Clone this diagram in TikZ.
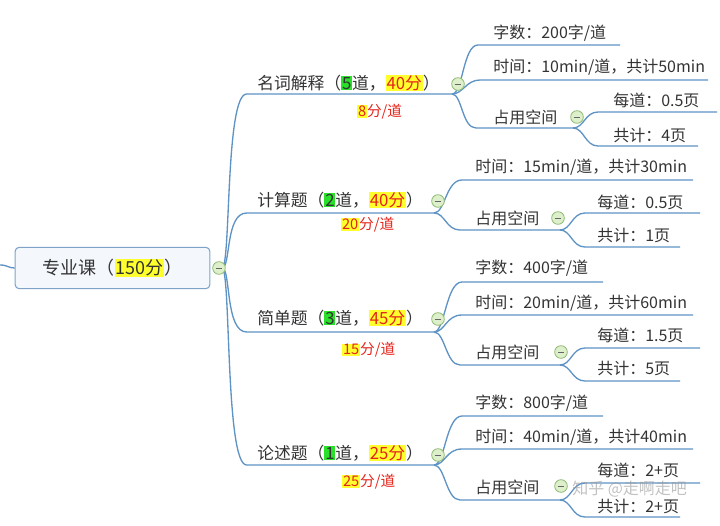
\documentclass[tikz,border=0pt]{standalone}
\usepackage{fontspec}
\setmainfont{Noto Sans CJK SC}
\definecolor{lineblue}{HTML}{5E93C4}
\definecolor{txt}{HTML}{333333}
\definecolor{hl}{HTML}{FFFF2E}
\definecolor{gr}{HTML}{2BE02B}
\definecolor{rd}{HTML}{E5231B}
\definecolor{boxedge}{HTML}{7FA3C8}
\definecolor{boxfill}{HTML}{F4F8FD}
\definecolor{togfill}{HTML}{DDEFCB}
\definecolor{togedge}{HTML}{8DBB72}
\newcommand{\hy}[1]{{\setlength{\fboxsep}{0.6pt}\colorbox{hl}{#1}}}
\newcommand{\hg}[1]{{\setlength{\fboxsep}{0.6pt}\colorbox{gr}{#1}}}
\newcommand{\rdy}[1]{\hy{\textcolor{rd}{#1}}}
\begin{document}
\begin{tikzpicture}[x=0.75pt,y=-0.75pt,
  conn/.style={draw=lineblue, line width=1pt},
  lbl/.style={anchor=west, inner sep=0pt, text=txt, font=\fontsize{12}{14}\selectfont},
  lbla/.style={lbl, font=\fontsize{12.6}{14}\selectfont},
  hand/.style={anchor=west, inner sep=0pt, text=rd, font=\fontsize{11}{12}\selectfont},
  tog/.style={circle, draw=togedge, fill=togfill, minimum size=9.5pt, inner sep=0pt, line width=0.6pt,
    path picture={\draw[black!60, line width=0.6pt] ([xshift=-2.6pt]path picture bounding box.center) -- ([xshift=2.6pt]path picture bounding box.center);}},
  rootbox/.style={draw=boxedge, fill=boxfill, rounded corners=3pt, line width=0.8pt,
    minimum width=146pt, minimum height=31pt, text=txt, font=\fontsize{13.5}{15}\selectfont}
]
\useasboundingbox (0,0) rectangle (720,525);

% root
\coordinate (lin) at (0,265);
\node[rootbox] (root) at (112.5,268) {专业课（\hy{150分}）};
\draw[conn] (lin) .. controls (8,265) and (8,268) .. (root.west);
\coordinate (rj) at (222,268);

% level-1 junction coordinates
\coordinate (a1s) at (248,94);  \coordinate (j1) at (452,94);
\coordinate (a2s) at (248,213); \coordinate (j2) at (434,213);
\coordinate (a3s) at (248,332); \coordinate (j3) at (434,332);
\coordinate (a4s) at (248,465); \coordinate (j4) at (434,465);

\foreach \s/\j in {a1s/j1,a2s/j2,a3s/j3,a4s/j4}{
  \draw[conn] (rj) .. controls (231,268) and (225,0|-\s) .. ([xshift=-1pt]\s) -- (\j);
}

\node[lbla] (a1) at (257,83) {名词解释（\hg{5}道，\rdy{40分}）};
\node[lbla] (a2) at (257,200) {计算题（\hg{2}道，\rdy{40分}）};
\node[lbla] (a3) at (257,318) {简单题（\hg{3}道，\rdy{45分}）};
\node[lbla] (a4) at (257,453) {论述题（\hg{1}道，\rdy{25分}）};

\node[hand] (h1) at (357,112) {\hy{8}分/道};
\node[hand] (h2) at (341,225) {\hy{20}分/道};
\node[hand] (h3) at (342,350) {\hy{15}分/道};
\node[hand] (h4) at (342,482) {\hy{25}分/道};

% ---------- branch 1
\coordinate (c11s) at (478,45);  \coordinate (c11e) at (620,45);
\coordinate (c12s) at (480,80);  \coordinate (c12e) at (708,80);
\coordinate (c13s) at (476,128); \coordinate (k1) at (573,128);
\coordinate (d11s) at (598,112); \coordinate (d11e) at (717,112);
\coordinate (d12s) at (598,146); \coordinate (d12e) at (698,146);
\draw[conn] (j1) .. controls (463,94) and (463,45) .. (c11s) -- (c11e);
\draw[conn] (j1) .. controls (463,94) and (466,80) .. (c12s) -- (c12e);
\draw[conn] (j1) .. controls (462,94) and (462,128) .. (c13s) -- (k1);
\draw[conn] (k1) .. controls (584,128) and (585,112) .. (d11s) -- (d11e);
\draw[conn] (k1) .. controls (584,128) and (585,146) .. (d12s) -- (d12e);
\node[lbl] (c11) at (493,33) {字数：200字/道};
\node[lbl] (c12) at (493,67) {时间：10min/道，共计50min};
\node[lbl] (c13) at (493,117) {占用空间};
\node[lbl] (d11) at (613,100) {每道：0.5页};
\node[lbl] (d12) at (613,135) {共计：4页};
\node[tog] (t1) at (458,84) {};
\node[tog] (t13) at (577,117) {};

% ---------- branch 2
\coordinate (c21s) at (462,180); \coordinate (c21e) at (693,180);
\coordinate (c22s) at (460,230); \coordinate (k2) at (560,230);
\coordinate (d21s) at (585,213); \coordinate (d21e) at (700,213);
\coordinate (d22s) at (585,247); \coordinate (d22e) at (680,247);
\draw[conn] (j2) .. controls (445,213) and (446,180) .. (c21s) -- (c21e);
\draw[conn] (j2) .. controls (445,213) and (446,230) .. (c22s) -- (k2);
\draw[conn] (k2) .. controls (571,230) and (572,213) .. (d21s) -- (d21e);
\draw[conn] (k2) .. controls (571,230) and (572,247) .. (d22s) -- (d22e);
\node[lbl] (c21) at (475,167) {时间：15min/道，共计30min};
\node[lbl] (c22) at (475,218) {占用空间};
\node[lbl] (d21) at (597,202) {每道：0.5页};
\node[lbl] (d22) at (597,235) {共计：1页};
\node[tog] (t2) at (438,201) {};
\node[tog] (t22) at (558,218) {};

% ---------- branch 3
\coordinate (c31s) at (462,282); \coordinate (c31e) at (603,282);
\coordinate (c32s) at (462,315); \coordinate (c32e) at (693,315);
\coordinate (c33s) at (460,365); \coordinate (k3) at (560,365);
\coordinate (d31s) at (585,348); \coordinate (d31e) at (700,348);
\coordinate (d32s) at (585,381); \coordinate (d32e) at (680,381);
\draw[conn] (j3) .. controls (445,332) and (446,282) .. (c31s) -- (c31e);
\draw[conn] (j3) .. controls (445,332) and (446,315) .. (c32s) -- (c32e);
\draw[conn] (j3) .. controls (445,332) and (446,365) .. (c33s) -- (k3);
\draw[conn] (k3) .. controls (571,365) and (572,348) .. (d31s) -- (d31e);
\draw[conn] (k3) .. controls (571,365) and (572,381) .. (d32s) -- (d32e);
\node[lbl] (c31) at (475,268) {字数：400字/道};
\node[lbl] (c32) at (475,303) {时间：20min/道，共计60min};
\node[lbl] (c33) at (475,352) {占用空间};
\node[lbl] (d31) at (597,335) {每道：1.5页};
\node[lbl] (d32) at (597,368) {共计：5页};
\node[tog] (t3) at (438,319) {};
\node[tog] (t33) at (561,352) {};

% ---------- branch 4
\coordinate (c41s) at (462,416); \coordinate (c41e) at (603,416);
\coordinate (c42s) at (462,449); \coordinate (c42e) at (693,449);
\coordinate (c43s) at (460,500); \coordinate (k4) at (560,500);
\coordinate (d41s) at (585,483); \coordinate (d41e) at (700,483);
\coordinate (d42s) at (585,517); \coordinate (d42e) at (680,517);
\draw[conn] (j4) .. controls (445,465) and (446,416) .. (c41s) -- (c41e);
\draw[conn] (j4) .. controls (445,465) and (446,449) .. (c42s) -- (c42e);
\draw[conn] (j4) .. controls (445,465) and (446,500) .. (c43s) -- (k4);
\draw[conn] (k4) .. controls (571,500) and (572,483) .. (d41s) -- (d41e);
\draw[conn] (k4) .. controls (571,500) and (572,517) .. (d42s) -- (d42e);
\node[lbl] (c41) at (475,403) {字数：800字/道};
\node[lbl] (c42) at (475,437) {时间：40min/道，共计40min};
\node[lbl] (c43) at (475,487) {占用空间};
\node[lbl] (d41) at (597,470) {每道：2+页};
\node[lbl] (d42) at (597,506) {共计：2+页};
\node[tog] (t4) at (438,455) {};
\node[tog] (t43) at (561,486) {};

% root toggle
\node[tog] (rt) at (219,268) {};

% watermark
\node[anchor=west, inner sep=0pt, text=black!40, opacity=0.6, font=\fontsize{12}{13}\selectfont] (wm) at (572,489) {知乎 @走啊走吧};
\end{tikzpicture}
\end{document}
